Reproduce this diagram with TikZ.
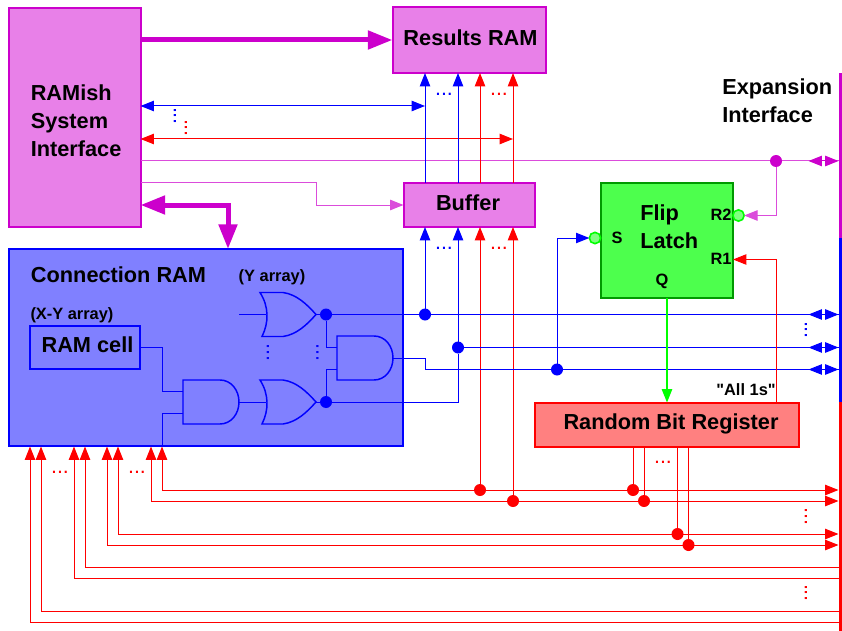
\documentclass[tikz,border=0pt]{standalone}
\usepackage{fontspec}
\setmainfont{Liberation Sans}
\newfontfamily\plainquote{Liberation Sans}
\usetikzlibrary{arrows.meta,positioning}
\definecolor{mag}{HTML}{CC00CC}
\definecolor{magfill}{HTML}{E880E8}
\definecolor{bluefill}{HTML}{8080FF}
\definecolor{greenfill}{HTML}{4DFF4D}
\definecolor{greendark}{HTML}{009900}
\definecolor{redfill}{HTML}{FF8080}
\tikzset{
	block/.style 2 args={draw,line width=1.5pt,outer sep=0pt,inner sep=0pt,minimum width=#1*0.75pt,minimum height=#2*0.75pt},
	big/.style={inner sep=0pt,font=\bfseries\fontsize{16.3}{21}\selectfont,align=left},
	small/.style={inner sep=0pt,font=\bfseries\fontsize{12.3}{14}\selectfont},
	ddots/.style={inner sep=0pt,font=\fontsize{16}{18}\selectfont},
	bline/.style={blue,line width=0.75pt},
	rline/.style={red,line width=0.75pt},
	mline/.style={mag!70!white,line width=0.75pt},
	thin tip/.tip={Triangle[length=10pt,width=7.8pt]},
	fat tip/.tip={Triangle[length=18.5pt,width=13.5pt]},
	head/.style={-{thin tip}},
	dbl/.style={{thin tip}-{thin tip}},
	fat/.style={mag,line width=3.75pt},
	jn/.style={circle,fill=#1,inner sep=0pt,minimum size=9pt,outer sep=0pt},
	bubble/.style={circle,draw=green,fill=green!50!white,line width=1.2pt,inner sep=0pt,minimum size=8.5pt,outer sep=0pt},
	busbar/.style={fill=#1,inner sep=0pt,outer sep=0pt,minimum width=2.7pt},
	orgate/.pic={
		\draw[blue,line width=1.1pt] (0,0) -- (23,0) .. controls (37,2) and (47,12) .. (56,22) .. controls (47,32) and (37,42) .. (23,44) -- (2,44) .. controls (9,30) and (9,14) .. (0,0) -- cycle;
		\coordinate (-in) at (6,22);
		\coordinate (-out) at (56,22);
	},
	andgate/.pic={
		\draw[blue,line width=1.1pt] (0,0) -- (37,0) .. controls (48,0) and (56,10) .. (56,22) .. controls (56,34) and (48,44) .. (37,44) -- (0,44) -- cycle;
		\coordinate (-a) at (0,11);
		\coordinate (-b) at (0,33);
		\coordinate (-out) at (56,22);
	}
}
\begin{document}
\begin{tikzpicture}[x=0.75pt,y=-0.75pt]
	\useasboundingbox (0,0) rectangle (842,631);
	\node[block={132}{219},draw=mag,fill=magfill] (sys) at (74.5,117.5) {};
	\node[block={153}{66},draw=mag,fill=magfill] (results) at (469,40) {};
	\node[block={131}{44},draw=mag,fill=magfill] (buffer) at (469,205) {};
	\node[block={394.5}{197},draw=blue,fill=bluefill] (conn) at (205.75,347.5) {};
	\node[block={110}{43},draw=blue,fill=bluefill] (ramcell) at (85,347.5) {};
	\node[block={132}{115},draw=greendark,fill=greenfill] (flip) at (667,240.5) {};
	\node[block={264}{44},draw=red,fill=redfill] (random) at (667,424.5) {};
	\node[big,anchor=west] (sysText) at (30.5,121) {RAMish\\System\\Interface};
	\node[big] (resultsText) at (470.5,38) {Results RAM};
	\node[big] (bufferText) at (468,203) {Buffer};
	\node[big] (connText) at (118.5,275) {Connection RAM};
	\node[big] (ramText) at (87.5,345) {RAM cell};
	\node[big,anchor=west] (flipText) at (640,227) {Flip\\Latch};
	\node[big] (randomText) at (671,424) {Random Bit Register};
	\node[big,anchor=west] (expText) at (722,101) {Expansion\\Interface};
	\node[small] (yText) at (272,277) {(Y array)};
	\node[small] (xyText) at (72,315) {(X-Y array)};
	\node[small] (sText) at (617,237.5) {S};
	\node[small] (r2Text) at (721,215) {R2};
	\node[small] (r1Text) at (721,259) {R1};
	\node[small] (qText) at (662,281) {Q};
	\node[small,font=\plainquote\bfseries\fontsize{12.3}{14}\selectfont] (allText) at (746,390) {"All 1s"};
	\foreach \x/\y/\c [count=\i] in {444/94/blue,444/248/blue,499/94/red,499/248/red,60/472/red,137/472/red,663/462/red}
		\node[ddots,text=\c] (hdots\i) at (\x,\y) {...};
	\foreach \x/\y/\c [count=\i] in {175/116/blue,268/352.5/blue,317.5/352.5/blue,806/330/blue,186/128/red,806/516.5/red,806/593/red}
		\node[ddots,text=\c,rotate=90] (vdots\i) at (\x,\y) {...};
	\foreach \n/\x/\y in {jb1/425/314.5,jb2/458/347.5,jg1/326/314.5,jg2/326/402,js/557/369.5}
		\node[jn=blue] (\n) at (\x,\y) {};
	\foreach \n/\x/\y in {jr1/480/490,jr2/513/501,jr3/633/490,jr4/644/501,jr5/677.5/534,jr6/688.5/545}
		\node[jn=red] (\n) at (\x,\y) {};
	\node[jn=mag] (jm) at (776,161) {};
	\node[bubble] (bubs) at (595,238) {};
	\node[bubble] (bubr) at (738.5,215.5) {};
	\foreach \n/\y in {busB1/314.5,busB2/347.5,busB3/369.5,busM/161}
		\coordinate (\n) at (838.5,\y);
	\coordinate (yin) at (239,314.5);
	\coordinate (ramB) at (425,106);
	\coordinate (ramR) at (513,139);
	\pic (o1) at (260,292.5) {orgate};
	\pic (o2) at (260,380) {orgate};
	\pic (a1) at (183,380) {andgate};
	\pic (a2) at (337,336) {andgate};
	\draw[fat,-{fat tip}] (sys.east |- results) -- (results);
	\draw[fat,{fat tip}-{fat tip}] (sys.east |- 0,205) -| (conn.north -| 228,0);
	\draw[bline,dbl] (sys.east |- ramB) -- (ramB);
	\draw[rline,dbl] (sys.east |- ramR) -- (ramR);
	\draw[mline] (sys.east |- jm) -- (jm) -- (busM);
	\draw[mline,head] (sys.east |- 0,183) -- (316,183) |- (buffer.west);
	\draw[mline,head] (jm) |- (bubr);
	\foreach \x/\s in {425/bline,458/bline,480/rline,513/rline}
		\draw[\s,head] (buffer.north -| \x,0) -- (results.south -| \x,0);
	\draw[bline,head] (jb1) -- (buffer.south -| jb1);
	\draw[bline,head] (jb2) -- (buffer.south -| jb2);
	\draw[rline,head] (jr1) -- (buffer.south -| jr1);
	\draw[rline,head] (jr2) -- (buffer.south -| jr2);
	\draw[bline] (yin) -- (o1-in);
	\draw[bline] (o1-out) -- (jg1) -- (jb1) -- (busB1);
	\draw[bline] (o2-out) -- (jg2) -| (jb2);
	\draw[bline] (jb2) -- (busB2);
	\draw[bline] (a1-out) -- (o2-in);
	\draw[bline] (jg1) |- (a2-a);
	\draw[bline] (jg2) |- (a2-b);
	\draw[bline] (a2-out) -- ++(32,0) |- (js) -- (busB3);
	\draw[bline,head] (js) |- (bubs);
	\draw[bline] (ramcell.east) -- ++(22,0) |- (a1-a);
	\draw[green,line width=0.9pt,head] (flip.south) -- (random.north);
	\draw[rline,head] (random.north -| 776,0) |- (flip.east |- 0,259.5);
	\foreach \j in {jr3,jr4,jr5,jr6}
		\draw[rline] (random.south -| \j) -- (\j);
	\foreach \i/\x/\y/\s in {1/162/490/dbl,2/151/501/dbl,3/118/534/dbl,4/107/545/dbl,5/85/567/head,6/74/578/head,7/41/611/head,8/30/622/head}{
		\coordinate (p\i) at (\x,446.5);
		\coordinate (q\i) at (838.5,\y);
		\draw[rline,\s] (q\i) -| (p\i);
	}
	\draw[bline] (a1-b) -| (p1);
	\draw[mag,line width=0.75pt,dbl] (busM) ++(-30,0) -- (busM);
	\foreach \n in {busB1,busB2,busB3}
		\draw[bline,dbl] (\n) ++(-30,0) -- (\n);
	\node[busbar=mag,minimum height=123.75pt] (barM) at (840.3,155.5) {};
	\node[busbar=blue,minimum height=123pt] (barB) at (840.3,320) {};
	\node[busbar=red,minimum height=171.75pt] (barR) at (840.3,516.5) {};
\end{tikzpicture}
\end{document}
